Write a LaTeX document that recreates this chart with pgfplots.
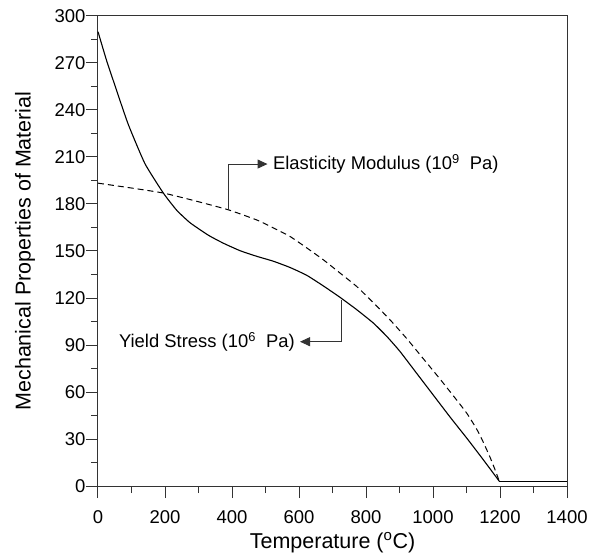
\documentclass[border=0pt]{standalone}
\usepackage{fontspec}
\setmainfont{Liberation Sans}
\usepackage{pgfplots}
\pgfplotsset{compat=1.18}
\usetikzlibrary{arrows.meta}
\begin{document}
\begin{tikzpicture}
\begin{axis}[
  scale only axis, width=469pt, height=470pt,
  xmin=0, xmax=1400, ymin=0, ymax=300,
  xtick={0,200,...,1400}, minor xtick={100,300,...,1300},
  ytick={0,30,...,300}, minor ytick={15,45,...,285},
  tick align=outside, xtick pos=bottom, ytick pos=left,
  major tick length=12pt, minor tick length=7pt,
  axis line style={line width=1pt, color=black!80},
  every tick/.style={line width=1pt, color=black!80},
  ticklabel style={font=\fontsize{18.5}{20}\selectfont},
  xticklabel style={yshift=-9pt},
  yticklabel style={xshift=3pt},
  /pgf/number format/assume math mode=true,
  /pgf/number format/1000 sep={},
  xlabel={Temperature (\textsuperscript{o}C)},
  ylabel={Mechanical Properties of Material},
  label style={font=\fontsize{21.5}{24}\selectfont},
  xlabel style={at={(axis description cs:0.5,-0.121)}, anchor=center},
  ylabel style={at={(axis description cs:-0.1557,0.5)}, anchor=center},
  clip=false,
]
% Yield stress (10^6 Pa)
\addplot[black, line width=1.1pt, smooth, tension=0.3] coordinates {
 (0,290) (25,272) (50,256) (90,231) (140,205.8) (195,187) (235,176) (275,168)
 (330,160) (374,155) (424,150.2) (474,146.6) (523,143.5) (573,139.5) (623,134.5)
 (672,127.8) (722,120.5) (772,112.6) (822,104) (862,95.5) (901,86) (951,72)
 (1001,58) (1051,44) (1101,30.5) (1150,16.8) (1198,3)
};
\addplot[black, line width=1.1pt] coordinates {(1198,3) (1400,3)};
% Elasticity modulus (10^9 Pa)
\addplot[black, line width=1pt, dash pattern=on 6pt off 4pt, smooth, tension=0.3] coordinates {
 (0,193.3) (100,190.2) (195,187) (290,182) (389,176.3) (474,169.8) (523,164.8)
 (573,159.3) (623,152) (672,144.5) (722,136) (772,127.4) (822,117) (872,106)
 (922,94) (972,81) (1022,68) (1072,54.5) (1101,46.4) (1130,36.5) (1150,28)
 (1170,18.5) (1185,10.5) (1198,3)
};
\draw[black!80, line width=1pt, -{Triangle[length=10pt,width=9pt]}]
  (axis cs:389,176.3) -- (axis cs:389,205.5) -- (axis cs:506,205.5);
\node[anchor=west, inner sep=0pt, font=\fontsize{18.4}{20}\selectfont]
  at (axis cs:522,205.5) {Elasticity Modulus (10\textsuperscript{9}\ \ Pa)};
\draw[black!80, line width=1pt, -{Triangle[length=10pt,width=9pt]}]
  (axis cs:727,118.7) -- (axis cs:727,92.1) -- (axis cs:603,92.1);
\node[anchor=east, inner sep=0pt, font=\fontsize{18.4}{20}\selectfont]
  at (axis cs:588,92.1) {Yield Stress (10\textsuperscript{6}\ \ Pa)};
\end{axis}
\path ([shift={(-98pt,-69pt)}]current axis.south west) rectangle ([shift={(32pt,16pt)}]current axis.north east);
\end{tikzpicture}
\end{document}
